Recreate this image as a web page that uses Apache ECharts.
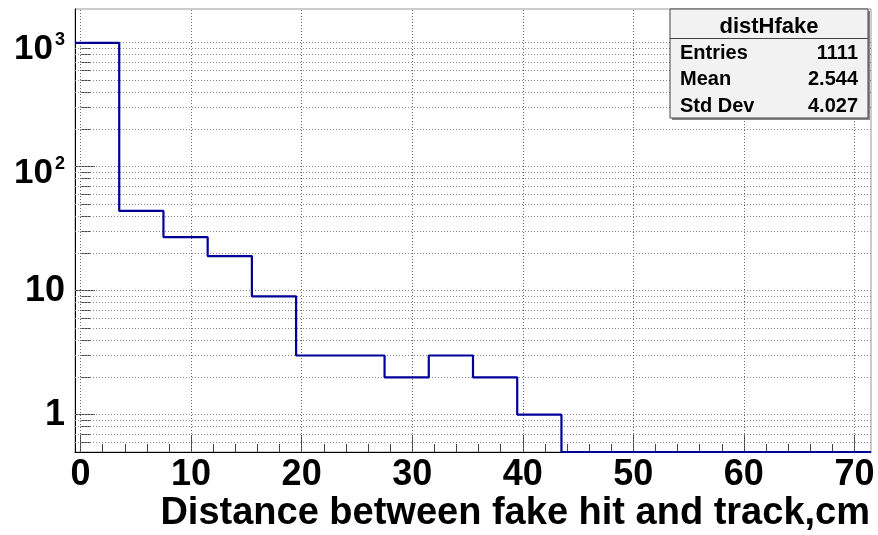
<!DOCTYPE html>
<html>
<head>
<meta charset="utf-8">
<title>distHfake</title>
<script src="https://cdn.jsdelivr.net/npm/echarts@6/dist/echarts.min.js"></script>
<style>
  html, body { margin: 0; padding: 0; background: #fff; }
  #chart { width: 878px; height: 535px; }
</style>
</head>
<body>
<div id="chart"></div>
<script>
// Histogram "distHfake": bin edges (cm) and counts per bin
const binEdges = [-0.5, 3.5, 7.5, 11.5, 15.5, 19.5, 23.5, 27.5, 31.5, 35.5,
                  39.5, 43.5, 47.5, 51.5, 55.5, 59.5, 63.5, 67.5, 71.5];
const binCounts = [998, 44, 27, 19, 9, 3, 3, 2, 3, 2, 1, 0, 0, 0, 0, 0, 0, 0];

// Axis ticks
const xMajorTicks = [0, 10, 20, 30, 40, 50, 60, 70];
const xMinorTicks = [2, 4, 6, 8, 12, 14, 16, 18, 22, 24, 26, 28, 32, 34, 36, 38,
                     42, 44, 46, 48, 52, 54, 56, 58, 62, 64, 66, 68];
const yMajorTicks = [1, 10, 100, 1000];
const yMinorTicks = [0.6, 0.7, 0.8, 0.9, 2, 3, 4, 5, 6, 7, 8, 9,
                     20, 30, 40, 50, 60, 70, 80, 90,
                     200, 300, 400, 500, 600, 700, 800, 900];

// Axis ranges
const xRange = [-0.5, 71.5];
const yRange = [0.5, 1870];

// Statistics box
const statsTitle = 'distHfake';
const statsRows = [['Entries', '1111'], ['Mean', '2.544'], ['Std Dev', '4.027']];

const xTitle = 'Distance between fake hit and track,cm';

const FONT = '"Liberation Sans", Arial, Helvetica, sans-serif';

// Step outline: each bin starts at its left edge; empty bins sit on the axis floor
const histPoints = binCounts.map((c, i) => [binEdges[i], Math.max(c, yRange[0])]);
histPoints.push([binEdges[binEdges.length - 1], Math.max(binCounts[binCounts.length - 1], yRange[0])]);

const gridLineStyle = { color: '#888', width: 1, type: [1, 2] };
const gridMarks = []
  .concat(yMinorTicks.concat(yMajorTicks).map(v => ({ yAxis: v })))
  .concat(xMajorTicks.map(v => ({ xAxis: v, lineStyle: { color: '#666', width: 1, type: [1, 2] } })));

const chart = echarts.init(document.getElementById('chart'), null, { renderer: 'canvas' });

const boxL = 670, boxT = 9, boxW = 198, boxH = 109;

chart.setOption({
  animation: false,
  backgroundColor: '#fff',
  title: {
    text: xTitle,
    right: 8,
    top: 495,
    padding: 0,
    textStyle: { fontFamily: FONT, fontSize: 38, fontWeight: 'bold', color: '#000' }
  },
  grid: {
    left: 75, right: 7, top: 9, bottom: 83,
    show: true, borderColor: '#999', borderWidth: 1, backgroundColor: 'transparent'
  },
  xAxis: [
    {
      type: 'value', min: xRange[0], max: xRange[1], position: 'bottom',
      axisLine: { show: true, onZero: false, lineStyle: { color: '#000', width: 1 } },
      axisTick: { show: true, inside: true, length: 17, customValues: xMajorTicks,
                  lineStyle: { color: '#444', width: 1 } },
      axisLabel: { show: true, customValues: xMajorTicks, margin: 5, color: '#000',
                   fontFamily: FONT, fontSize: 36, fontWeight: 'bold' },
      splitLine: { show: false }
    },
    {
      type: 'value', min: xRange[0], max: xRange[1], position: 'bottom',
      axisLine: { show: false },
      axisTick: { show: true, inside: true, length: 8, customValues: xMinorTicks,
                  lineStyle: { color: '#444', width: 1 } },
      axisLabel: { show: false },
      splitLine: { show: false }
    }
  ],
  yAxis: [
    {
      type: 'log', logBase: 10, min: yRange[0], max: yRange[1], position: 'left',
      axisLine: { show: true, onZero: false, lineStyle: { color: '#000', width: 1 } },
      axisTick: { show: true, inside: true, length: 20, customValues: yMajorTicks,
                  lineStyle: { color: '#444', width: 1 } },
      axisLabel: {
        show: true, customValues: yMajorTicks, margin: 10, color: '#000',
        fontFamily: FONT, fontWeight: 'bold',
        padding: [12, 0, 0, 0],
        formatter: v => {
          if (v < 100) return '{n|' + v + '}';
          return '{b|10}{s|' + Math.round(Math.log10(v)) + '}';
        },
        rich: {
          n: { fontFamily: FONT, fontWeight: 'bold', fontSize: 36, color: '#000', padding: [0, 0, 12, 0] },
          b: { fontFamily: FONT, fontWeight: 'bold', fontSize: 35, lineHeight: 36, color: '#000', verticalAlign: 'bottom' },
          s: { fontFamily: FONT, fontWeight: 'bold', fontSize: 18, lineHeight: 17, color: '#000', verticalAlign: 'top', padding: [0, 0, 0, 2] }
        }
      },
      splitLine: { show: false }
    },
    {
      type: 'log', logBase: 10, min: yRange[0], max: yRange[1], position: 'left',
      axisLine: { show: false },
      axisTick: { show: true, inside: true, length: 10, customValues: yMinorTicks,
                  lineStyle: { color: '#444', width: 1 } },
      axisLabel: { show: false },
      splitLine: { show: false }
    }
  ],
  series: [
    {
      name: 'grid', type: 'line', data: [], xAxisIndex: 0, yAxisIndex: 0, z: 1, silent: true,
      markLine: {
        silent: true, symbol: ['none', 'none'], label: { show: false },
        lineStyle: gridLineStyle, data: gridMarks, animation: false
      }
    },
    {
      name: statsTitle, type: 'line', step: 'end', data: histPoints,
      xAxisIndex: 0, yAxisIndex: 0, z: 5, clip: false,
      symbol: 'none', showSymbol: false,
      lineStyle: { color: '#000099', width: 2.2 }
    }
  ],
  graphic: [
    { type: 'rect', z: 100, shape: { x: boxL + 2, y: boxT + 2, width: boxW, height: boxH },
      style: { fill: '#888' } },
    { type: 'rect', z: 101, shape: { x: boxL, y: boxT, width: boxW, height: boxH },
      style: { fill: '#f2f2f2', stroke: '#444', lineWidth: 1 } },
    { type: 'line', z: 102, shape: { x1: boxL, y1: 38.5, x2: boxL + boxW, y2: 38.5 },
      style: { stroke: '#444', lineWidth: 1 } },
    { type: 'text', z: 103, x: boxL + boxW / 2, y: 27,
      style: { text: statsTitle, fill: '#000', font: 'bold 22px ' + FONT, align: 'center', verticalAlign: 'middle' } }
  ].concat(statsRows.flatMap((r, i) => [
    { type: 'text', z: 103, x: boxL + 10, y: 53 + i * 26.6,
      style: { text: r[0], fill: '#000', font: 'bold 20px ' + FONT, align: 'left', verticalAlign: 'middle' } },
    { type: 'text', z: 103, x: boxL + boxW - 10, y: 53 + i * 26.6,
      style: { text: r[1], fill: '#000', font: 'bold 20px ' + FONT, align: 'right', verticalAlign: 'middle' } }
  ]))
});
</script>
</body>
</html>
